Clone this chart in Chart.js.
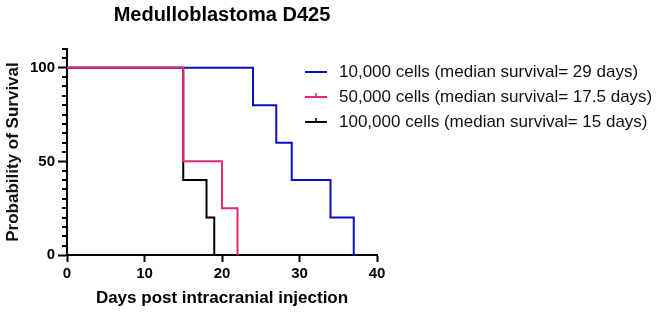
<!DOCTYPE html>
<html><head><meta charset="utf-8">
<script src="https://cdn.jsdelivr.net/npm/chart.js@4/dist/chart.umd.min.js"></script>
<style>html,body{margin:0;padding:0;background:#fff}</style>
</head><body>
<canvas id="c" width="661" height="312"></canvas>
<script>
const chartTitle = 'Medulloblastoma D425';
const xAxisTitle = 'Days post intracranial injection';
const yAxisTitle = 'Probability of Survival';
const seriesLabels = [
  '10,000 cells (median survival= 29 days)',
  '50,000 cells (median survival= 17.5 days)',
  '100,000 cells (median survival= 15 days)'
];
const days10k = [0, 24, 27, 29, 34, 37];
const surv10k = [100, 80, 60, 40, 20, 0];
const days50k = [0, 15, 20, 22];
const surv50k = [100, 50, 25, 0];
const days100k = [0, 15, 18, 19];
const surv100k = [100, 40, 20, 0];
const xTickValues = [0, 10, 20, 30, 40];
const yLabeledTicks = [0, 50, 100];

const FONT = "'Liberation Sans', Arial, sans-serif";
const colors = ['#0c0cc4', '#e2287d', '#000000'];

function pts(xs, ys) { return xs.map((x, i) => ({ x: x, y: ys[i] })); }

const minorTicks = {
  id: 'minorTicks',
  afterDraw(chart) {
    const y = chart.scales.y, ctx = chart.ctx, left = chart.chartArea.left;
    ctx.save();
    ctx.strokeStyle = '#000';
    ctx.lineWidth = 2;
    for (let v = 5; v <= 110; v += 5) {
      if (yLabeledTicks.includes(v)) continue;
      const py = Math.round(y.getPixelForValue(v));
      ctx.beginPath(); ctx.moveTo(left - 5, py); ctx.lineTo(left, py); ctx.stroke();
    }
    ctx.restore();
  }
};

const customLegend = {
  id: 'customLegend',
  afterDraw(chart) {
    const ctx = chart.ctx;
    const ys = [72, 97, 122];
    ctx.save();
    ctx.font = '17px ' + FONT;
    ctx.textBaseline = 'middle';
    chart.data.datasets.forEach((ds, i) => {
      const yy = ys[i];
      ctx.strokeStyle = ds.borderColor;
      ctx.lineWidth = 2;
      ctx.beginPath(); ctx.moveTo(305, yy); ctx.lineTo(327, yy); ctx.stroke();
      if (i > 0) {
        ctx.lineWidth = 1.5;
        ctx.beginPath(); ctx.moveTo(316, yy - 4); ctx.lineTo(316, yy); ctx.stroke();
      }
      ctx.fillStyle = '#111';
      ctx.fillText(ds.label, 339, yy);
    });
    ctx.restore();
  }
};

new Chart(document.getElementById('c'), {
  type: 'line',
  data: {
    datasets: [
      { label: seriesLabels[0], data: pts(days10k, surv10k), borderColor: colors[0], order: 1 },
      { label: seriesLabels[1], data: pts(days50k, surv50k), borderColor: colors[1], order: 0 },
      { label: seriesLabels[2], data: pts(days100k, surv100k), borderColor: colors[2], order: 2 }
    ].map(d => Object.assign(d, { stepped: 'before', borderWidth: 2, pointRadius: 0, fill: false, clip: false, tension: 0 }))
  },
  options: {
    responsive: false,
    animation: false,
    layout: { padding: { left: 0, right: 284, top: 0, bottom: 0 } },
    plugins: {
      legend: { display: false },
      tooltip: { enabled: false },
      title: {
        display: true, text: chartTitle, color: '#000', fullSize: false,
        font: { family: FONT, size: 20, weight: 'bold' },
        padding: { top: 3, bottom: 22 }
      }
    },
    scales: {
      x: {
        type: 'linear', min: 0, max: 40,
        afterBuildTicks: s => { s.ticks = xTickValues.map(v => ({ value: v })); },
        afterFit: s => { s.height = 57; },
        border: { color: '#000', width: 2 },
        grid: { drawOnChartArea: false, drawTicks: true, tickLength: 7, color: '#000', tickWidth: 2 },
        ticks: { color: '#000', font: { family: FONT, size: 15, weight: 'bold' }, padding: 3, maxRotation: 0 },
        title: { display: true, text: xAxisTitle, color: '#000', font: { family: FONT, size: 17, weight: 'bold' }, padding: { top: 0, bottom: 3 } }
      },
      y: {
        type: 'linear', min: 0, max: 110,
        afterBuildTicks: s => { s.ticks = yLabeledTicks.map(v => ({ value: v })); },
        afterFit: s => { s.width = 67; },
        border: { color: '#000', width: 2 },
        grid: { drawOnChartArea: false, drawTicks: true, tickLength: 9, color: '#000', tickWidth: 2 },
        ticks: { color: '#000', font: { family: FONT, size: 15, weight: 'bold' }, padding: 3 },
        title: { display: true, text: yAxisTitle, color: '#111', font: { family: FONT, size: 17, weight: 'bold' }, padding: { top: 3, bottom: 3 } }
      }
    }
  },
  plugins: [minorTicks, customLegend]
});
</script>
</body></html>
